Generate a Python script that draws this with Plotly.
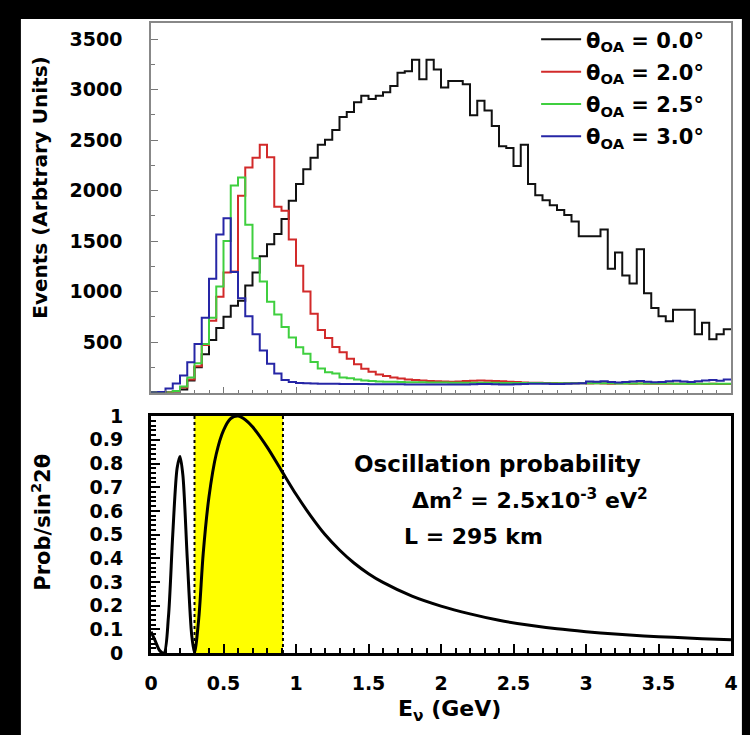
import plotly.graph_objects as go

# ---------------- data ----------------
BIN_WIDTH = 0.05          # GeV, histogram bin width
E_START = 0.0

# Events per bin, 80 bins from 0 to 4 GeV
theta_0_0 = [0, 0, 0, 5, 30, 120, 250, 380, 520, 640,
             750, 860, 910, 1060, 1190, 1350, 1470, 1570, 1720, 1900,
             2066, 2212, 2325, 2455, 2503, 2600, 2730, 2779, 2876, 2940,
             2908, 2940, 2973, 3037, 3167, 3183, 3296, 3102, 3296, 3199,
             3021, 3086, 3086, 3053, 2746, 2891, 2794, 2640, 2439, 2422,
             2245, 2455, 2066, 1953, 1905, 1856, 1808, 1759, 1694, 1549,
             1549, 1549, 1614, 1225, 1387, 1160, 1080, 1420, 983, 837,
             756, 707, 820, 820, 820, 578, 691, 529, 578, 626]
theta_2_0 = [0, 0, 0, 10, 50, 130, 260, 470, 710, 950,
             1190, 1200, 1950, 2228, 2325, 2455, 2330, 1840, 1800, 1517,
             1257, 1000, 780, 620, 540, 450, 400, 335, 280, 235,
             205, 180, 165, 150, 140, 130, 125, 120, 115, 112,
             110, 108, 110, 115, 118, 120, 118, 115, 112, 108,
             104, 100, 98, 96, 95, 94, 93, 92, 92, 91,
             90, 92, 90, 88, 90, 89, 88, 90, 88, 87,
             88, 86, 87, 86, 88, 86, 85, 86, 85, 85]
theta_2_5 = [0, 0, 0, 15, 60, 150, 290, 480, 740, 1050,
             1500, 2050, 2131, 1662, 1330, 1100, 900, 772, 650, 546,
             449, 384, 303, 238, 200, 189, 150, 141, 130, 120,
             115, 110, 108, 106, 104, 103, 102, 101, 100, 100,
             99, 98, 98, 97, 97, 96, 96, 96, 95, 95,
             95, 94, 94, 94, 93, 93, 93, 92, 92, 92,
             92, 91, 91, 91, 90, 90, 90, 90, 89, 89,
             89, 89, 88, 88, 88, 88, 88, 87, 87, 87]
theta_3_0 = [0, 5, 40, 90, 170, 300, 480, 740, 1128, 1565,
             1726, 1193, 934, 755, 578, 416, 286, 189, 125, 105,
             95, 92, 90, 88, 88, 86, 85, 85, 84, 84,
             83, 83, 82, 82, 82, 81, 81, 80, 80, 80,
             80, 79, 79, 80, 82, 85, 84, 82, 80, 80,
             82, 84, 86, 88, 86, 84, 85, 88, 90, 92,
             110, 108, 112, 105, 100, 104, 110, 115, 108, 102,
             105, 112, 118, 110, 104, 112, 120, 125, 118, 130]

series_names = ["θ<sub>OA</sub> = 0.0°", "θ<sub>OA</sub> = 2.0°",
                "θ<sub>OA</sub> = 2.5°", "θ<sub>OA</sub> = 3.0°"]
series_values = [theta_0_0, theta_2_0, theta_2_5, theta_3_0]
series_colors = ["#111111", "#d22a2a", "#3fcf3f", "#2626a6"]

# Oscillation probability curve
prob_energy = [0.0, 0.03, 0.06, 0.09, 0.12, 0.15, 0.18, 0.2, 0.22, 0.25,
               0.28, 0.3, 0.33, 0.36, 0.4, 0.45, 0.5, 0.55, 0.6, 0.65,
               0.7, 0.8, 0.9, 1.0, 1.1, 1.2, 1.3, 1.4, 1.5, 1.6,
               1.8, 2.0, 2.2, 2.4, 2.6, 2.8, 3.0, 3.2, 3.4, 3.6,
               3.8, 4.0]
prob_value = [0.09, 0.05, 0.01, 0.0, 0.15, 0.5, 0.78, 0.83, 0.75, 0.4,
              0.08, 0.0, 0.15, 0.42, 0.66, 0.84, 0.94, 0.99, 1.0, 0.985,
              0.955, 0.87, 0.77, 0.67, 0.58, 0.5, 0.435, 0.38, 0.335, 0.298,
              0.24, 0.198, 0.165, 0.138, 0.118, 0.102, 0.09, 0.08, 0.072, 0.066,
              0.06, 0.056]

band_energy = [0.3, 0.91]   # highlighted energy window (GeV)

top_ticks = [500, 1000, 1500, 2000, 2500, 3000, 3500]

# ---------------- figure ----------------
FONT = "DejaVu Sans"
fig = go.Figure()

for name, vals, col in zip(series_names, series_values, series_colors):
    edges = [E_START + BIN_WIDTH * i for i in range(len(vals) + 1)]
    fig.add_trace(go.Scatter(
        x=edges, y=vals + [vals[-1]], mode="lines", line_shape="hv",
        line=dict(color=col, width=2), name=name, legendgroup=name,
        xaxis="x", yaxis="y"))

fig.add_trace(go.Scatter(
    x=prob_energy, y=prob_value, mode="lines",
    line=dict(color="black", width=3, shape="spline", smoothing=0.8),
    showlegend=False, xaxis="x2", yaxis="y2"))

tickfont = dict(family=FONT, size=19, color="black", weight="bold")

fig.update_layout(
    width=750, height=735,
    margin=dict(l=151, r=15, t=12, b=82),
    paper_bgcolor="white", plot_bgcolor="white",
    showlegend=True,
    xaxis=dict(domain=[0, 1], range=[0, 4], anchor="y",
               showticklabels=False, ticks="inside", dtick=0.5, ticklen=6,
               tickcolor="#777", showline=True, mirror=True,
               linecolor="#888", linewidth=1.5, showgrid=False, zeroline=False,
               minor=dict(dtick=0.1, ticklen=3, ticks="inside", tickcolor="#777")),
    yaxis=dict(domain=[0.4134, 1], range=[0, 3660], anchor="x",
               tickvals=top_ticks, ticks="inside", ticklen=7, tickcolor="#777",
               tickfont=tickfont, ticklabelstandoff=23,
               showline=True, mirror=True, linecolor="#888", linewidth=1.5,
               showgrid=False, zeroline=False,
               minor=dict(dtick=250, ticklen=4, ticks="inside", tickcolor="#777")),
    xaxis2=dict(domain=[0, 1], range=[0, 4], anchor="y2",
                ticks="inside", dtick=0.5, ticklen=9, tickwidth=2,
                tickcolor="black", tickfont=tickfont, ticklabelstandoff=11,
                showline=True, mirror=True, linecolor="black", linewidth=3,
                showgrid=False, zeroline=False,
                minor=dict(dtick=0.1, ticklen=5, ticks="inside", tickcolor="black")),
    yaxis2=dict(domain=[0, 0.376], range=[0, 1.0], anchor="x2",
                ticks="inside", dtick=0.1, ticklen=9, tickwidth=2,
                tickcolor="black", tickfont=tickfont, ticklabelstandoff=21,
                showline=True, mirror=True, linecolor="black", linewidth=3,
                showgrid=False, zeroline=False,
                minor=dict(dtick=0.02, ticklen=5, ticks="inside", tickcolor="black")),
    legend=dict(x=0.664, y=1.006, xanchor="left", yanchor="top",
                bgcolor="rgba(0,0,0,0)", borderwidth=0,
                font=dict(family=FONT, size=21, color="black", weight="bold"),
                tracegroupgap=2, itemwidth=40),
)

# black outer frame around the white page (left, top, right strips)
for (x0, x1, y0, y1) in [(-0.40, -0.2243, -0.30, 1.10),
                         (-0.40, 1.10, 1.0062, 1.10),
                         (1.0188, 1.10, -0.30, 1.10)]:
    fig.add_shape(type="rect", xref="paper", yref="paper",
                  x0=x0, x1=x1, y0=y0, y1=y1,
                  fillcolor="black", line=dict(width=0), layer="below")
# yellow energy window with dotted edges
fig.add_shape(type="rect", xref="x2", yref="y2",
              x0=band_energy[0], x1=band_energy[1], y0=0, y1=1,
              fillcolor="#ffff00", line=dict(width=0), layer="below")
for xe in band_energy:
    fig.add_shape(type="line", xref="x2", yref="y2", x0=xe, x1=xe, y0=0, y1=1,
                  line=dict(color="black", width=2, dash="dot"), layer="below")

title_font = dict(family=FONT, size=20, color="black", weight="bold")
text_font = dict(family=FONT, size=22, color="black", weight="bold")

fig.add_annotation(text="Events (Arbtrary Units)", textangle=-90,
                   xref="paper", yref="paper", x=-0.192, y=0.738,
                   xanchor="center", yanchor="middle", showarrow=False,
                   font=title_font)
fig.add_annotation(text="Prob/sin<sup>2</sup>2θ", textangle=-90,
                   xref="paper", yref="paper", x=-0.189, y=0.2075,
                   xanchor="center", yanchor="middle", showarrow=False,
                   font=dict(family=FONT, size=21, color="black", weight="bold"))
fig.add_annotation(text="E<sub>ν</sub> (GeV)",
                   xref="paper", yref="paper", x=0.515, y=-0.092,
                   xanchor="center", yanchor="middle", showarrow=False,
                   font=dict(family=FONT, size=22, color="black", weight="bold"))
fig.add_annotation(text="Oscillation probability", xref="x2", yref="y2",
                   x=1.385, y=0.797, xanchor="left", yanchor="middle",
                   showarrow=False, font=dict(family=FONT, size=23, color="black", weight="bold"))
fig.add_annotation(text="Δm<sup>2</sup> = 2.5x10<sup>-3</sup> eV<sup>2</sup>",
                   xref="x2", yref="y2", x=1.788, y=0.652,
                   xanchor="left", yanchor="middle", showarrow=False,
                   font=text_font)
fig.add_annotation(text="L = 295 km", xref="x2", yref="y2",
                   x=1.733, y=0.49, xanchor="left", yanchor="middle",
                   showarrow=False, font=text_font)

fig.write_html("out.html")
